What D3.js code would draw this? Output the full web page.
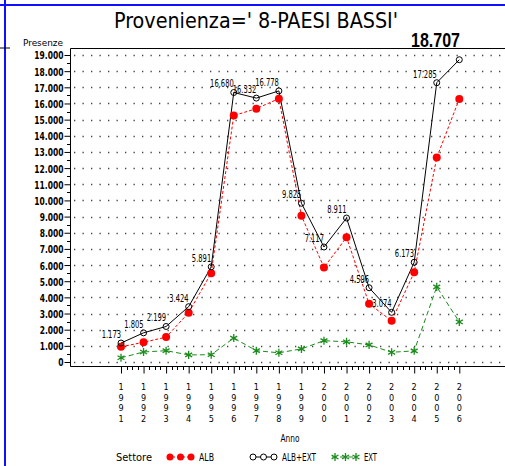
<!DOCTYPE html>
<html>
<head>
<meta charset="utf-8">
<script src="https://cdn.jsdelivr.net/npm/d3@7"></script>
<style>
  body { margin: 0; background: #fff; }
  svg { display: block; }
  text { font-family: "Liberation Sans Narrow", "DejaVu Sans Condensed", sans-serif; fill: #000; }
</style>
</head>
<body>
<div id="chart"></div>
<script>
// data
var years = [1991, 1992, 1993, 1994, 1995, 1996, 1997, 1998, 1999, 2000, 2001, 2002, 2003, 2004, 2005, 2006];
var albExt = [1173, 1805, 2199, 3424, 5891, 16680, 16332, 16778, 9825, 7117, 8911, 4596, 3074, 6173, 17285, 18707];
var alb = [940, 1220, 1540, 3050, 5500, 15250, 15680, 16300, 9050, 5850, 7720, 3600, 2550, 5550, 12650, 16280];
var ext = [260, 620, 700, 440, 450, 1480, 700, 570, 810, 1320, 1250, 1060, 600, 690, 4650, 2480];
var yTicks = d3.range(0, 19001, 1000);

var width = 505, height = 466;
var svg = d3.select('#chart')
    .append('svg')
    .attr('width', width)
    .attr('height', height);

var itFmt = d3.formatLocale({ decimal: ',', thousands: '.', grouping: [3], currency: ['€', ''] }).format(',d');

// the SAS font is narrow: squeeze numbers to its width
function numWidth(s, dw) {
    return s.split('').reduce(function(w, ch) { return w + (ch === '.' ? dw / 2 : dw); }, 0);
}

var x = d3.scaleLinear().domain([1991, 2006]).range([121, 459.3]);
var y = d3.scaleLinear().domain([0, 19000]).range([362, 55]);

var axisLeft = 70, axisBottom = 366, plotTop = 48;

// window borders (blue)
svg.append('line').attr('x1', 0).attr('x2', width).attr('y1', 5).attr('y2', 5)
    .attr('stroke', '#1010ff').attr('stroke-width', 2);
svg.append('line').attr('x1', 5).attr('x2', 5).attr('y1', 0).attr('y2', height)
    .attr('stroke', '#1010ff').attr('stroke-width', 2);
svg.append('line').attr('x1', 0).attr('x2', 10).attr('y1', 48).attr('y2', 48)
    .attr('stroke', '#000').attr('stroke-width', 1);

// title
svg.append('text')
    .attr('x', 114).attr('y', 28)
    .attr('textLength', 284).attr('lengthAdjust', 'spacingAndGlyphs')
    .style('font-size', '21px')
    .style('font-family', '"DejaVu Sans Condensed", sans-serif')
    .text("Provenienza=' 8-PAESI BASSI'");

// big last value
svg.append('text')
    .attr('x', 411).attr('y', 47)
    .attr('textLength', 49).attr('lengthAdjust', 'spacingAndGlyphs')
    .style('font-size', '20px').style('font-weight', 'bold')
    .style('font-family', 'Arial, "Liberation Sans", sans-serif')
    .text(itFmt(albExt[albExt.length - 1]));

// gridlines (dotted)
svg.append('g').selectAll('line')
    .data(yTicks)
    .enter().append('line')
    .attr('x1', axisLeft + 4).attr('x2', width)
    .attr('y1', function(d) { return Math.round(y(d)) + 0.5; })
    .attr('y2', function(d) { return Math.round(y(d)) + 0.5; })
    .attr('stroke', '#444').attr('stroke-width', 1.3)
    .attr('stroke-dasharray', '1.3,7.2');

// frame
svg.append('path')
    .attr('d', 'M' + width + ',' + (plotTop + 0.5) + 'H' + (axisLeft + 0.5) + 'V' + (axisBottom + 0.5) + 'H' + width)
    .attr('fill', 'none').attr('stroke', '#000').attr('stroke-width', 1);

// y axis ticks + labels
var yAxis = d3.axisLeft(y).tickValues(yTicks).tickSize(6).tickFormat(itFmt);
var gy = svg.append('g').attr('transform', 'translate(' + (axisLeft + 0.5) + ',0)').call(yAxis);
gy.select('.domain').remove();
gy.selectAll('text').attr('x', -7).attr('dy', '0.36em')
    .attr('textLength', function(d) { return numWidth(itFmt(d), 5.3); })
    .attr('lengthAdjust', 'spacingAndGlyphs')
    .style('font-size', '11px').style('font-weight', 'bold')
    .style('font-family', '"Liberation Sans Narrow", "DejaVu Sans Condensed", sans-serif');
svg.append('g').selectAll('line')
    .data(d3.range(500, 19000, 1000))
    .enter().append('line')
    .attr('x1', axisLeft - 3).attr('x2', axisLeft)
    .attr('y1', function(d) { return Math.round(y(d)) + 0.5; })
    .attr('y2', function(d) { return Math.round(y(d)) + 0.5; })
    .attr('stroke', '#000');

svg.append('text')
    .attr('x', 23).attr('y', 46)
    .attr('textLength', 40).attr('lengthAdjust', 'spacingAndGlyphs')
    .style('font-size', '9px')
    .text('Presenze');

// x axis ticks
var minor = d3.range(1991, 2006, 0.25).filter(function(d) { return d % 1 !== 0; });
svg.append('g').selectAll('line')
    .data(minor)
    .enter().append('line')
    .attr('x1', function(d) { return Math.round(x(d)) + 0.5; })
    .attr('x2', function(d) { return Math.round(x(d)) + 0.5; })
    .attr('y1', axisBottom).attr('y2', axisBottom + 4)
    .attr('stroke', '#000');
var xAxis = d3.axisBottom(x).tickValues(years).tickSize(7).tickFormat('');
var gx = svg.append('g').attr('transform', 'translate(0,' + (axisBottom + 0.5) + ')').call(xAxis);
gx.select('.domain').remove();

// stacked year digits
var yearLabels = svg.append('g').selectAll('text')
    .data(years)
    .enter().append('text')
    .attr('text-anchor', 'middle')
    .style('font-size', '9px');
yearLabels.each(function(d) {
    var t = d3.select(this);
    String(d).split('').forEach(function(ch, i) {
        t.append('tspan')
            .attr('x', x(d))
            .attr('y', 390 + i * 10.5)
            .text(ch);
    });
});

svg.append('text')
    .attr('x', 280.5).attr('y', 442)
    .attr('textLength', 19).attr('lengthAdjust', 'spacingAndGlyphs')
    .style('font-size', '10px')
    .text('Anno');

// series
var line = function(vals) {
    return d3.line()
        .x(function(d, i) { return x(years[i]); })
        .y(function(d) { return y(d); })(vals);
};

svg.append('path').attr('d', line(ext))
    .attr('fill', 'none').attr('stroke', '#1a8c1a').attr('stroke-width', 1)
    .attr('stroke-dasharray', '5,3');
svg.append('path').attr('d', line(alb))
    .attr('fill', 'none').attr('stroke', '#ff0000').attr('stroke-width', 1)
    .attr('stroke-dasharray', '3,2');
svg.append('path').attr('d', line(albExt))
    .attr('fill', 'none').attr('stroke', '#000').attr('stroke-width', 1);

var star = d3.symbol().type(d3.symbolAsterisk).size(45);

svg.append('g').selectAll('path')
    .data(ext)
    .enter().append('path')
    .attr('d', star)
    .attr('transform', function(d, i) { return 'translate(' + x(years[i]) + ',' + y(d) + ')'; })
    .attr('fill', 'none').attr('stroke', '#1a8c1a').attr('stroke-width', 1.3);

svg.append('g').selectAll('circle')
    .data(alb)
    .enter().append('circle')
    .attr('cx', function(d, i) { return x(years[i]); })
    .attr('cy', function(d) { return y(d); })
    .attr('r', 4)
    .attr('fill', '#ff0000');

svg.append('g').selectAll('circle')
    .data(albExt)
    .enter().append('circle')
    .attr('cx', function(d, i) { return x(years[i]); })
    .attr('cy', function(d) { return y(d); })
    .attr('r', 3)
    .attr('fill', 'none').attr('stroke', '#000').attr('stroke-width', 1);

// value labels for ALB+EXT (the last one is the big one at top)
svg.append('g').selectAll('text')
    .data(albExt.slice(0, -1))
    .enter().append('text')
    .attr('x', function(d, i) { return x(years[i]); })
    .attr('y', function(d) { return y(d) - 5; })
    .attr('text-anchor', 'end')
    .attr('textLength', function(d) { return numWidth(itFmt(d), 4.3); })
    .attr('lengthAdjust', 'spacingAndGlyphs')
    .style('font-size', '10.5px')
    .text(function(d) { return itFmt(d); });

// legend
var legY = 457;
svg.append('text').attr('x', 116).attr('y', legY + 4)
    .attr('textLength', 36).attr('lengthAdjust', 'spacingAndGlyphs')
    .style('font-size', '11px').text('Settore');

var legend = [
    { name: 'ALB', x0: 167, tx: 199, tw: 15, color: '#ff0000' },
    { name: 'ALB+EXT', x0: 250, tx: 282, tw: 34, color: '#000' },
    { name: 'EXT', x0: 332, tx: 364, tw: 13, color: '#1a8c1a' }
];
legend.forEach(function(l, k) {
    svg.append('line')
        .attr('x1', l.x0).attr('x2', l.x0 + 25)
        .attr('y1', legY).attr('y2', legY)
        .attr('stroke', l.color)
        .attr('stroke-dasharray', k === 1 ? null : (k === 0 ? '3,2' : '5,3'));
    [3, 13.5, 24].forEach(function(dx) {
        var cx = l.x0 + dx;
        if (k === 0) {
            svg.append('circle').attr('cx', cx).attr('cy', legY).attr('r', 3.5).attr('fill', l.color);
        } else if (k === 1) {
            svg.append('circle').attr('cx', cx).attr('cy', legY).attr('r', 3)
                .attr('fill', '#fff').attr('stroke', '#000');
        } else {
            svg.append('path').attr('d', star)
                .attr('transform', 'translate(' + cx + ',' + legY + ')')
                .attr('fill', 'none').attr('stroke', l.color).attr('stroke-width', 1.3);
        }
    });
    svg.append('text').attr('x', l.tx).attr('y', legY + 4)
        .attr('textLength', l.tw).attr('lengthAdjust', 'spacingAndGlyphs')
        .style('font-size', '11px').text(l.name);
});
</script>
</body>
</html>
